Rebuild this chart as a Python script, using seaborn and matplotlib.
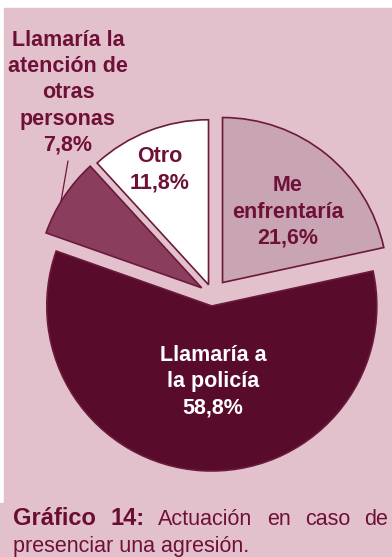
import matplotlib
matplotlib.use("Agg")
import matplotlib.pyplot as plt
from matplotlib.patches import Rectangle
import seaborn as sns
import numpy as np

# Survey answers, drawn clockwise from twelve o'clock
categories = ["Me\nenfrentaría", "Llamaría a\nla policía",
              "Llamaría la\natención de\notras\npersonas", "Otro"]
shares = [21.6, 58.8, 7.8, 11.8]
pull_out = [16, 11, 13, 11]          # offsets of each slice, in axis units (px)

caption_bold = ["Gráfico", "14:"]
caption_words = ["Actuación", "en", "caso", "de"]
caption_line2 = "presenciar una agresión."

BG = "#e3c1cc"
EDGE = "#6b1a3c"
TEXT = "#6e1038"
slice_colors = sns.color_palette(["#c9a4b2", "#590b2b", "#8b3d5d", "#ffffff"])

sns.set_style("white")
plt.rcParams["font.family"] = ["Liberation Sans", "DejaVu Sans"]

W, H = 392, 557
fig = plt.figure(figsize=(W / 100, H / 100), dpi=100)
fig.patch.set_facecolor("white")
# pink panels behind the chart and the caption
fig.patches.append(Rectangle((4 / W, (H - 503) / H), (W - 4) / W, (503 - 8) / H,
                             transform=fig.transFigure, color=BG, zorder=-10))
fig.patches.append(Rectangle((0, 0), 1, (H - 503) / H,
                             transform=fig.transFigure, color=BG, zorder=-10))

ax = fig.add_axes([0, 0, 1, 1])
ax.set_zorder(5)
cx, cy, R = 212.5, H - 295, 165
wedges, _ = ax.pie(shares, explode=pull_out, colors=slice_colors,
                   startangle=90, counterclock=False, radius=R, center=(cx, cy),
                   wedgeprops=dict(edgecolor=EDGE, linewidth=1.2))
ax.set_xlim(0, W)
ax.set_ylim(0, H)
ax.set_aspect("auto")
ax.axis("off")


def pct(v):
    return f"{v:.1f}".replace(".", ",") + "%"


label_pos = [(288, 212), (213, 382), (68, 93), (160, 170)]
label_col = [TEXT, "white", TEXT, TEXT]
for name, v, (x, y), c in zip(categories, shares, label_pos, label_col):
    ax.text(x, H - y, f"{name}\n{pct(v)}", ha="center", va="center",
            fontsize=15.5, fontweight="bold", color=c, linespacing=1.32)

# leader from the outside label to its slice
w = wedges[2]
mid = np.deg2rad((w.theta1 + w.theta2) / 2 + 2)
ex, ey = w.center[0] + w.r * np.cos(mid), w.center[1] + w.r * np.sin(mid)
ax.plot([68, ex], [H - 161, ey], color=EDGE, lw=0.9)

# caption, first line justified to the full width
fig.canvas.draw()
r = fig.canvas.get_renderer()
left, right, y1 = 13, 388, H - 525
items = []
for wd in caption_bold:
    items.append(ax.text(0, y1, wd, fontsize=17, fontweight="bold",
                         color="#6a0d33", ha="left", va="baseline"))
for wd in caption_words:
    items.append(ax.text(0, y1, wd, fontsize=15.5, color=TEXT,
                         ha="left", va="baseline"))
widths = [t.get_window_extent(r).width for t in items]
gap = (right - left - sum(widths)) / (len(items) - 1)
x = left
for t, wdt in zip(items, widths):
    t.set_x(x)
    x += wdt + gap
ax.text(left, H - 552, caption_line2, fontsize=15.5, color=TEXT,
        ha="left", va="baseline")

fig.savefig("out.png", dpi=100, facecolor=fig.get_facecolor())
